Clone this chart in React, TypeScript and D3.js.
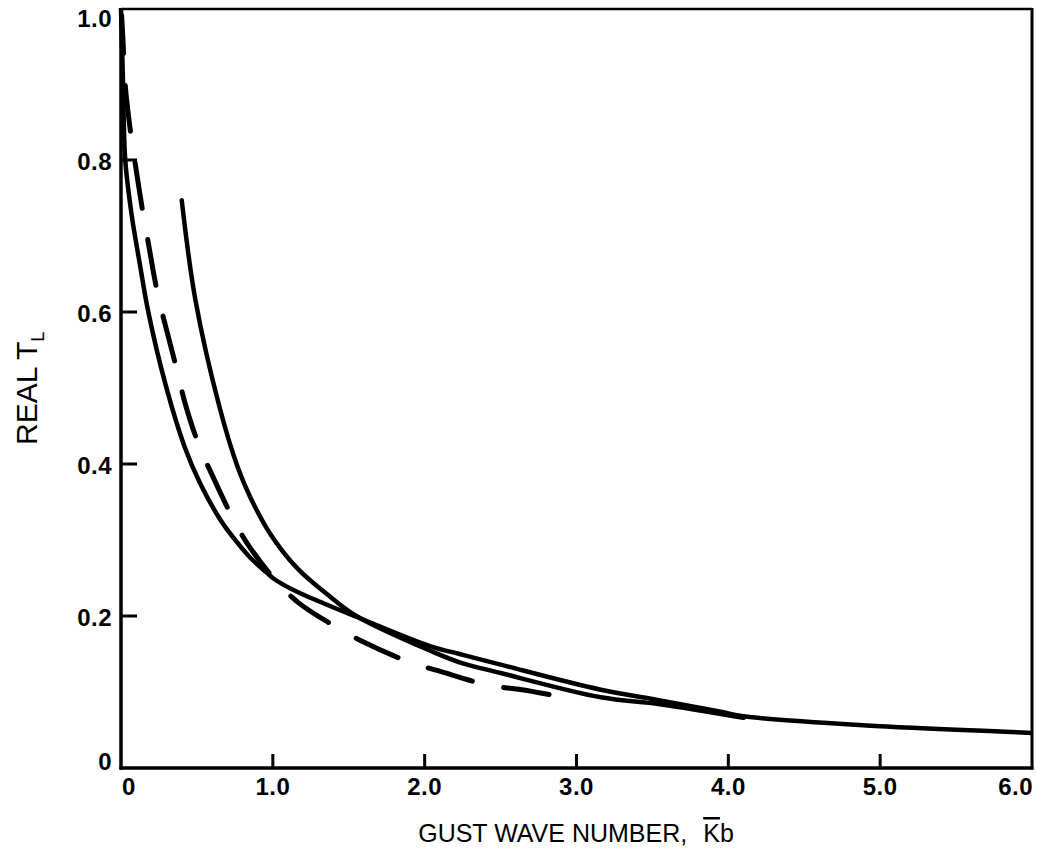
import React from "react";
import * as d3 from "d3";

// ---- data ----
const xTicks = [0, 1, 2, 3, 4, 5, 6];
const xTickLabels = ["0", "1.0", "2.0", "3.0", "4.0", "5.0", "6.0"];
const yTicks = [0, 0.2, 0.4, 0.6, 0.8, 1.0];
const yTickLabels = ["0", "0.2", "0.4", "0.6", "0.8", "1.0"];

// solid curve starting at the top-left corner, running to Kb = 6
const solidA: [number, number][] = [
  [0, 1.0], [0.013, 0.905], [0.028, 0.8], [0.07, 0.728], [0.125, 0.662],
  [0.18, 0.6], [0.29, 0.507], [0.42, 0.422], [0.52, 0.375], [0.65, 0.328],
  [0.74, 0.303], [0.85, 0.277], [0.96, 0.257], [1.0, 0.25], [1.08, 0.24],
  [1.18, 0.23], [1.55, 0.199], [2.04, 0.16], [2.23, 0.15], [2.5, 0.136],
  [3.16, 0.103], [3.55, 0.089], [3.95, 0.074], [4.1, 0.068], [4.91, 0.056],
  [5.9, 0.047], [6.0, 0.046],
];

// solid curve starting at Kb ~ 0.4
const solidB: [number, number][] = [
  [0.4, 0.747], [0.49, 0.616], [0.65, 0.474], [0.77, 0.395], [0.85, 0.357],
  [0.98, 0.309], [1.16, 0.263], [1.38, 0.225], [1.55, 0.2], [2.04, 0.154],
  [2.23, 0.139], [2.5, 0.125], [3.16, 0.093], [3.55, 0.084], [4.1, 0.066],
];

// long-dashed curve
const dashedC: [number, number][] = [
  [0.004, 0.99], [0.013, 0.958], [0.026, 0.903], [0.062, 0.838], [0.09, 0.8],
  [0.14, 0.736], [0.171, 0.701], [0.232, 0.633], [0.27, 0.6], [0.355, 0.534],
  [0.422, 0.48], [0.507, 0.428], [0.606, 0.383], [0.738, 0.328], [0.83, 0.296],
  [1.0, 0.251], [1.166, 0.218], [1.37, 0.191], [1.574, 0.168], [1.904, 0.139],
  [2.088, 0.128], [2.418, 0.109], [2.642, 0.103], [3.024, 0.089],
];

const W = 1037;
const H = 853;
const X0 = 121;
const X1 = 1032;
const Y0 = 768;
const Y1 = 8;

export default function App() {
  const x = d3.scaleLinear().domain([0, 6]).range([X0, X1]);
  const y = d3.scaleLinear().domain([0, 1]).range([Y0, Y1]);
  const line = d3
    .line<[number, number]>()
    .x((d) => x(d[0]))
    .y((d) => y(d[1]))
    .curve(d3.curveCatmullRom.alpha(0.5));

  const tickFont = {
    fontFamily: "'Liberation Sans', Arial, Helvetica, sans-serif",
    fontWeight: 700,
    fontSize: 24,
    letterSpacing: 0.5,
  } as const;
  const titleFont = "'Liberation Sans', Arial, Helvetica, sans-serif";

  return (
    <svg
      width={W}
      height={H}
      viewBox={`0 0 ${W} ${H}`}
      style={{ position: "absolute", left: 0, top: 0, background: "#fff" }}
    >
      <rect x={0} y={0} width={W} height={H} fill="#fff" />

      {/* frame */}
      <line x1={X0} x2={X1} y1={y(1) + 1} y2={y(1) + 1} stroke="#000" strokeWidth={2.5} />
      <line x1={X1} x2={X1} y1={y(1)} y2={Y0 + 1.5} stroke="#000" strokeWidth={3} />
      <line x1={X0} x2={X0} y1={y(1)} y2={Y0 + 1.5} stroke="#000" strokeWidth={3.5} />
      <line x1={X0 - 1.5} x2={X1 + 1.5} y1={Y0} y2={Y0} stroke="#000" strokeWidth={3.5} />

      {/* y ticks */}
      {yTicks.map((t, i) => (
        <g key={"yt" + i}>
          {t > 0 && t < 1 && (
            <line x1={X0} x2={X0 + 16} y1={y(t)} y2={y(t)} stroke="#000" strokeWidth={3} />
          )}
          <text
            x={112}
            y={y(t) + (t === 1 ? 19 : t === 0 ? 2 : 10)}
            textAnchor="end"
            {...tickFont}
          >
            {yTickLabels[i]}
          </text>
        </g>
      ))}

      {/* x ticks */}
      {xTicks.map((t, i) => (
        <g key={"xt" + i}>
          {t > 0 && t < 6 && (
            <line x1={x(t)} x2={x(t)} y1={Y0} y2={Y0 - 14} stroke="#000" strokeWidth={3} />
          )}
          <text
            x={t === 0 ? x(t) + 1 : t === 6 ? x(t) + 1 : x(t)}
            y={795}
            textAnchor={t === 0 ? "start" : t === 6 ? "end" : "middle"}
            {...tickFont}
          >
            {xTickLabels[i]}
          </text>
        </g>
      ))}

      {/* curves */}
      <path d={line(solidA) || ""} fill="none" stroke="#000" strokeWidth={4.5} strokeLinejoin="round" />
      <path d={line(solidB) || ""} fill="none" stroke="#000" strokeWidth={4.5} strokeLinecap="round" strokeLinejoin="round" />
      <path
        d={line(dashedC) || ""}
        fill="none"
        stroke="#000"
        strokeWidth={5}
        strokeLinecap="round"
        strokeDasharray="46 32"
        strokeDashoffset={8}
      />

      {/* axis titles */}
      <text x={576} y={842} textAnchor="middle" fontFamily={titleFont} fontSize={25}>
        GUST WAVE NUMBER,
        <tspan dx={16} style={{ textDecoration: "overline" }}>K</tspan>
        <tspan>b</tspan>
      </text>
      <g transform="translate(37,445) rotate(-90)">
        <text x={0} y={0} textAnchor="start" fontFamily={titleFont} fontSize={30}>
          REAL T
          <tspan fontSize={18} dy={7}>L</tspan>
        </text>
      </g>
    </svg>
  );
}
